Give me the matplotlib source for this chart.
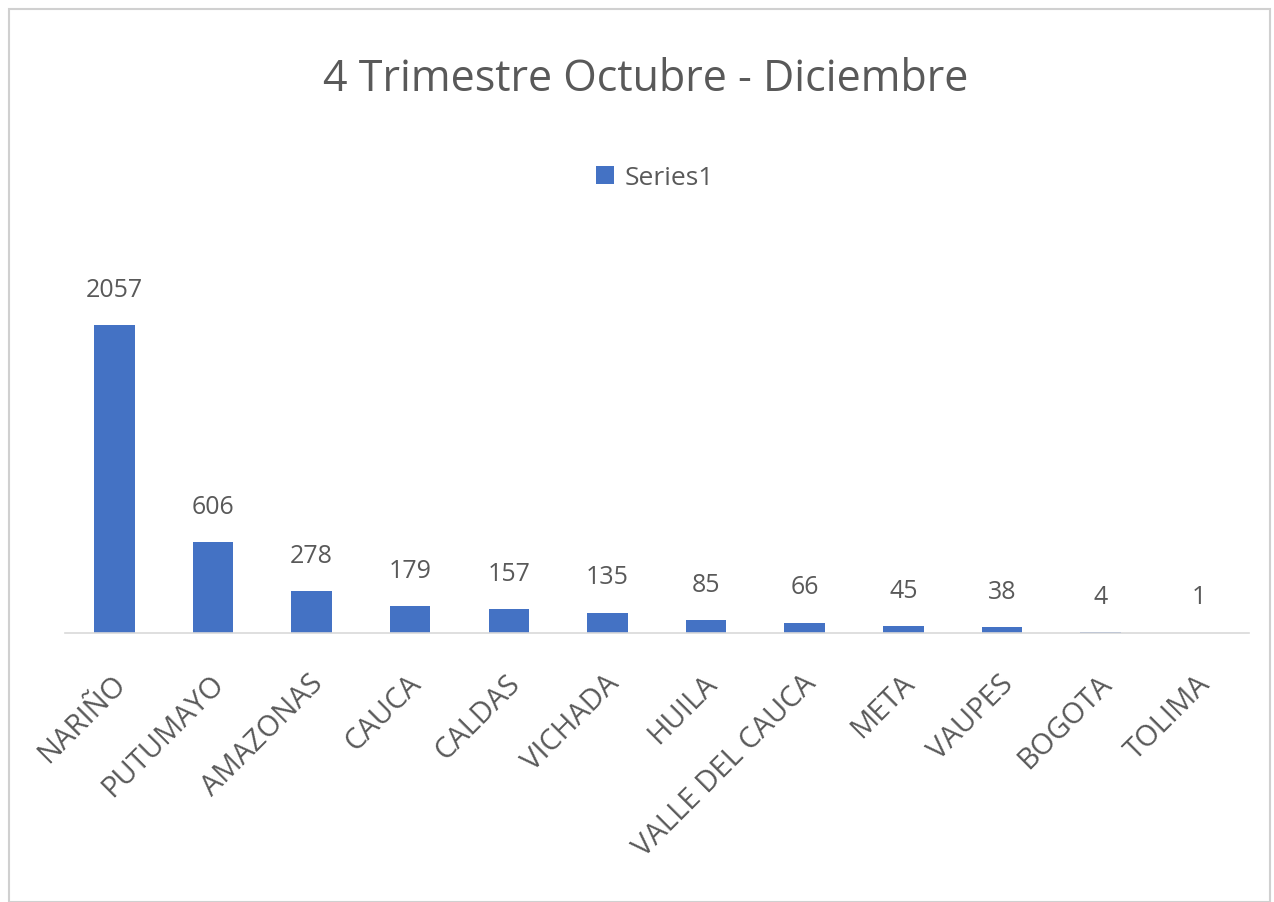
import numpy as np
import matplotlib
matplotlib.use("Agg")
import matplotlib.pyplot as plt
import matplotlib.transforms as mtransforms
from matplotlib.patches import Rectangle

departamentos = ["NARIÑO", "PUTUMAYO", "AMAZONAS", "CAUCA", "CALDAS", "VICHADA",
                 "HUILA", "VALLE DEL CAUCA", "META", "VAUPES", "BOGOTA", "TOLIMA"]
casos = [2057, 606, 278, 179, 157, 135, 85, 66, 45, 38, 4, 1]
titulo = "4 Trimestre Octubre - Diciembre"
serie = "Series1"

plt.rcParams['font.family'] = ['Open Sans', 'DejaVu Sans']
gris = '#595959'
azul = '#4472C4'

fig = plt.figure(figsize=(12.74, 9.03), dpi=100)
ax = fig.add_axes([0.051, 0.298, 0.929, 0.447])

x = np.arange(len(departamentos))
ax.bar(x, casos, width=0.41, color=azul, label=serie, zorder=2)
for xi, v in zip(x, casos):
    ax.annotate(str(v), (xi, v), xytext=(0, 17), textcoords='offset points',
                ha='center', va='bottom', fontsize=18, color=gris)

ax.set_xlim(-0.5, len(departamentos) - 0.5)
ax.set_ylim(0, 2700)
ax.set_yticks([])
for s in ['top', 'right', 'left']:
    ax.spines[s].set_visible(False)
ax.spines['bottom'].set_color('#d9d9d9')
ax.spines['bottom'].set_linewidth(1.2)
ax.set_xticks(x)
ax.set_xticklabels(departamentos, rotation=45, ha='right', va='center',
                   rotation_mode='anchor', fontsize=21, color=gris)
ax.tick_params(axis='x', length=0, pad=33)
shift = mtransforms.ScaledTranslation(5 / 72, 0, fig.dpi_scale_trans)
for lbl in ax.get_xticklabels():
    lbl.set_transform(lbl.get_transform() + shift)

fig.text(0.507, 0.912, titulo, ha='center', va='center', fontsize=31, color=gris)
fig.legend(loc='center', bbox_to_anchor=(0.514, 0.802), frameon=False, fontsize=19,
           labelcolor=gris, handlelength=0.7, handleheight=0.7, handletextpad=0.4)

fig.patches.append(Rectangle((0.007, 0.0), 0.99, 0.989, transform=fig.transFigure,
                             fill=False, edgecolor='#d0d0d0', linewidth=1.5))

fig.savefig("out.png", dpi=100)
